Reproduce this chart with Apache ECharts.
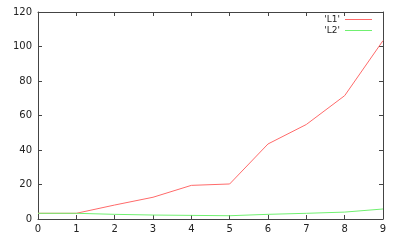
<!DOCTYPE html>
<html><head><meta charset="utf-8">
<script src="https://cdn.jsdelivr.net/npm/echarts@6/dist/echarts.min.js"></script>
<style>html,body{margin:0;padding:0;background:#fff}#c{width:400px;height:240px}</style>
</head><body><div id="c"></div>
<script>
const xValues = [0, 1, 2, 3, 4, 5, 6, 7, 8, 9];
const l1Values = [3.3, 3.3, 8.1, 12.6, 19.5, 20.3, 43.5, 54.8, 71.5, 103.4];
const l2Values = [3.3, 3.3, 2.7, 2.3, 2.1, 1.9, 2.7, 3.3, 4.0, 5.8];
const seriesNames = ["'L1'", "'L2'"];
const seriesColors = ['#ff6a6a', '#70f070'];

const chart = echarts.init(document.getElementById('c'), null, {renderer: 'canvas'});
function mkAxis(pos, min, max, interval, labels, margin) {
  return {
    type: 'value', position: pos, min: min, max: max, interval: interval,
    axisLine: {show: true, onZero: false, lineStyle: {color: '#444', width: 1}},
    axisTick: {show: true, inside: true, length: 4, lineStyle: {color: '#444'}},
    splitLine: {show: false},
    axisLabel: labels ? {show: true, margin: margin, fontFamily: 'DejaVu Sans', fontSize: 10, color: '#222'} : {show: false}
  };
}
chart.setOption({
  animation: false,
  grid: {left: 38, right: 17, top: 12, bottom: 21},
  legend: {
    orient: 'vertical', right: 23, top: 10, align: 'right', padding: 5,
    itemWidth: 27, itemHeight: 1, itemGap: 2, icon: 'rect',
    textStyle: {fontFamily: 'DejaVu Sans', fontSize: 9, color: '#222', lineHeight: 9},
    data: seriesNames.map((n, i) => ({name: n, itemStyle: {color: seriesColors[i]}, lineStyle: {color: seriesColors[i]}}))
  },
  xAxis: [
    mkAxis('bottom', 0, 9, 1, true, 5),
    mkAxis('top', 0, 9, 1, false, 0)
  ],
  yAxis: [
    mkAxis('left', 0, 120, 20, true, 6),
    mkAxis('right', 0, 120, 20, false, 0)
  ],
  series: [
    {name: seriesNames[0], type: 'line', showSymbol: false, symbol: 'none',
     xAxisIndex: 0, yAxisIndex: 0,
     color: seriesColors[0], itemStyle: {color: seriesColors[0]}, lineStyle: {width: 1, color: seriesColors[0]},
     data: xValues.map((x, i) => [x, l1Values[i]])},
    {name: seriesNames[1], type: 'line', showSymbol: false, symbol: 'none',
     xAxisIndex: 1, yAxisIndex: 1,
     color: seriesColors[1], itemStyle: {color: seriesColors[1]}, lineStyle: {width: 1, color: seriesColors[1]},
     data: xValues.map((x, i) => [x, l2Values[i]])}
  ]
});
</script></body></html>
